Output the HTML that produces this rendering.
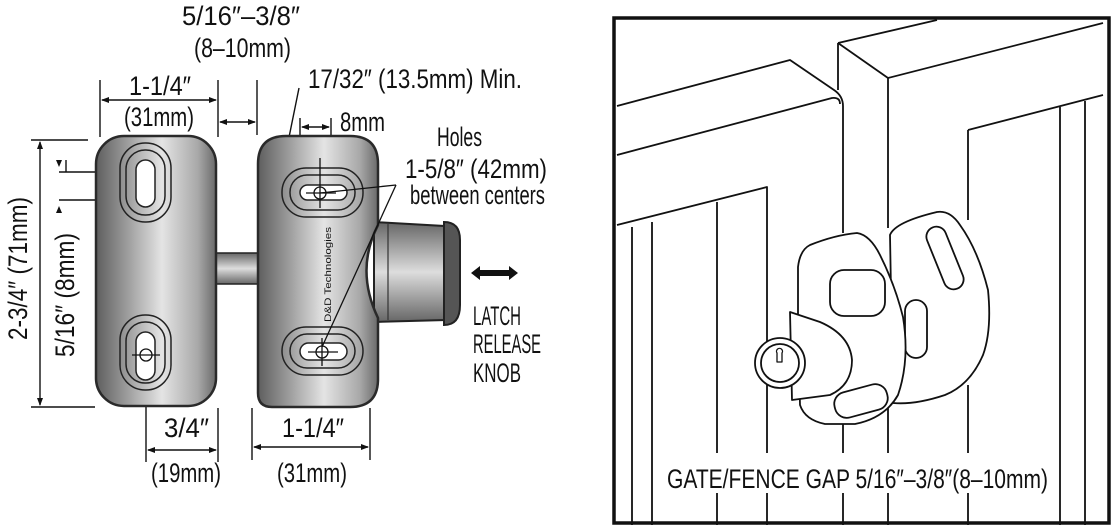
<!DOCTYPE html>
<html><head><meta charset="utf-8"><style>
html,body{margin:0;padding:0;background:#fff;}
svg{display:block;}
text{font-family:"Liberation Sans",sans-serif;fill:#111;}
</style></head><body>
<svg width="1111" height="525" viewBox="0 0 1111 525" xmlns="http://www.w3.org/2000/svg">
<defs>
<linearGradient id="g" x1="0" x2="1" y1="0" y2="0">
<stop offset="0" stop-color="#5e5e5e"/><stop offset="0.25" stop-color="#9a9a9a"/><stop offset="0.55" stop-color="#e4e4e4"/><stop offset="0.85" stop-color="#a8a8a8"/><stop offset="1" stop-color="#6a6a6a"/>
</linearGradient>
<linearGradient id="gv" x1="0" x2="0" y1="0" y2="1">
<stop offset="0" stop-color="#666"/><stop offset="0.5" stop-color="#ddd"/><stop offset="1" stop-color="#666"/>
</linearGradient>
<marker id="a" markerWidth="8" markerHeight="6" refX="7" refY="3" orient="auto-start-reverse" markerUnits="userSpaceOnUse"><path d="M0,0 L8,3 L0,6z" fill="#111"/></marker>
</defs>

<!-- LEFT: dims -->
<g stroke="#111" stroke-width="1.4" fill="none">
<line x1="100" y1="80" x2="100" y2="137"/><line x1="218" y1="80" x2="218" y2="137"/>
<line x1="102" y1="100" x2="216" y2="100" marker-start="url(#a)" marker-end="url(#a)"/>
<line x1="257" y1="80" x2="257" y2="135"/>
<line x1="220" y1="122" x2="255" y2="122" marker-start="url(#a)" marker-end="url(#a)"/>
<line x1="299" y1="88" x2="284" y2="162"/>
<line x1="262" y1="162" x2="309" y2="162" marker-start="url(#a)" marker-end="url(#a)"/>
<line x1="300" y1="118" x2="300" y2="157"/><line x1="331" y1="118" x2="331" y2="157"/>
<line x1="302" y1="127" x2="329" y2="127" marker-start="url(#a)" marker-end="url(#a)"/>
<line x1="31" y1="140" x2="88" y2="140"/><line x1="31" y1="407" x2="95" y2="407"/>
<line x1="40" y1="142" x2="40" y2="405" marker-start="url(#a)" marker-end="url(#a)"/>
<line x1="59" y1="172" x2="95" y2="172"/><line x1="59" y1="200" x2="95" y2="200"/>
<line x1="66" y1="160" x2="66" y2="172"/>
<line x1="146" y1="330" x2="146" y2="462"/>
<line x1="218" y1="408" x2="218" y2="462"/>
<line x1="148" y1="450" x2="216" y2="450" marker-start="url(#a)" marker-end="url(#a)"/>
<line x1="252" y1="408" x2="252" y2="460"/><line x1="370" y1="408" x2="370" y2="460"/>
<line x1="254" y1="447" x2="368" y2="447" marker-start="url(#a)" marker-end="url(#a)"/>
</g>
<path d="M56,160 L62,160 L59,167z M56,213 L62,213 L59,206z" fill="#111"/>

<rect x="214" y="253" width="46" height="31" fill="url(#gv)" stroke="#222" stroke-width="1.5"/>
<rect x="96" y="136" width="120" height="270" rx="28" fill="url(#g)" stroke="#2a2a2a" stroke-width="2.5"/>
<g fill="none" stroke="#222" stroke-width="1.5">
<rect x="120" y="143" width="51" height="79" rx="25"/><rect x="126" y="150" width="39" height="65" rx="19"/><rect x="136" y="160" width="19" height="47" rx="9.5" fill="#fff"/>
<rect x="120" y="315" width="51" height="75" rx="25"/><rect x="126" y="322" width="39" height="61" rx="19"/><rect x="136" y="332" width="19" height="48" rx="9.5" fill="#fff"/>
</g>
<circle cx="146" cy="355" r="6" fill="none" stroke="#111" stroke-width="1.3"/>
<line x1="132" y1="355" x2="160" y2="355" stroke="#111" stroke-width="1.3"/>
<path d="M374,222 L444,226 L446,320 L374,322z" fill="url(#gv)" stroke="#222" stroke-width="2"/>
<path d="M444,222 Q460,222 460,240 L460,305 Q460,325 444,325z" fill="#555" stroke="#222" stroke-width="2"/>
<line x1="388" y1="224" x2="388" y2="320" stroke="#333" stroke-width="1.2"/>
<path d="M286,136 L350,136 Q378,136 378,164 L378,225 Q355,270 378,318 L378,379 Q378,407 350,407 L272,407 Q258,407 258,393 L258,164 Q258,136 286,136z" fill="url(#g)" stroke="#2a2a2a" stroke-width="2.5"/>
<g fill="none" stroke="#222" stroke-width="1.5">
<rect x="282" y="168" width="81" height="49" rx="24"/><rect x="290" y="175" width="65" height="35" rx="17"/><rect x="300" y="185" width="47" height="15" rx="7.5" fill="#fff"/>
<rect x="282" y="327" width="81" height="48" rx="24"/><rect x="290" y="334" width="65" height="34" rx="17"/><rect x="300" y="343" width="47" height="17" rx="8.5" fill="#fff"/>
</g>
<g stroke="#111" stroke-width="1.3" fill="none">
<circle cx="320" cy="193" r="6"/><line x1="306" y1="193" x2="336" y2="193"/><line x1="320" y1="158" x2="320" y2="208"/>
<circle cx="322" cy="352" r="6"/><line x1="308" y1="352" x2="338" y2="352"/><line x1="322" y1="338" x2="322" y2="366"/>
<line x1="396" y1="185" x2="320" y2="193"/><line x1="396" y1="185" x2="322" y2="347"/>
</g>
<text transform="translate(331,322) rotate(-90)" font-size="9" fill="#333" textLength="95" lengthAdjust="spacingAndGlyphs">D&amp;D Technologies</text>
<path d="M471,273 L480,266 L480,270 L509,270 L509,266 L518,273 L509,280 L509,276 L480,276 L480,280z" fill="#111"/>

<g font-size="27">
<text x="182" y="25" textLength="118" lengthAdjust="spacingAndGlyphs">5/16″–3/8″</text>
<text x="194" y="57" textLength="97" lengthAdjust="spacingAndGlyphs">(8–10mm)</text>
<text x="129" y="95" textLength="62" lengthAdjust="spacingAndGlyphs">1-1/4″</text>
<text x="124" y="126" textLength="70" lengthAdjust="spacingAndGlyphs">(31mm)</text>
<text x="308" y="88" textLength="214" lengthAdjust="spacingAndGlyphs">17/32″ (13.5mm) Min.</text>
<text x="340" y="131" textLength="45" lengthAdjust="spacingAndGlyphs">8mm</text>
<text x="437" y="146" textLength="45" lengthAdjust="spacingAndGlyphs">Holes</text>
<text x="405" y="178" textLength="142" lengthAdjust="spacingAndGlyphs">1-5/8″ (42mm)</text>
<text x="410" y="204" textLength="135" lengthAdjust="spacingAndGlyphs">between centers</text>
<text x="473" y="325" textLength="48" lengthAdjust="spacingAndGlyphs">LATCH</text>
<text x="473" y="353" textLength="68" lengthAdjust="spacingAndGlyphs">RELEASE</text>
<text x="473" y="382" textLength="48" lengthAdjust="spacingAndGlyphs">KNOB</text>
<text x="164" y="437" textLength="45" lengthAdjust="spacingAndGlyphs">3/4″</text>
<text x="151" y="482" textLength="70" lengthAdjust="spacingAndGlyphs">(19mm)</text>
<text x="282" y="437" textLength="62" lengthAdjust="spacingAndGlyphs">1-1/4″</text>
<text x="277" y="482" textLength="70" lengthAdjust="spacingAndGlyphs">(31mm)</text>
<text transform="translate(27,340) rotate(-90)" textLength="143" lengthAdjust="spacingAndGlyphs">2-3/4″ (71mm)</text>
<text transform="translate(74,357) rotate(-90)" textLength="124" lengthAdjust="spacingAndGlyphs">5/16″ (8mm)</text>
</g>

<!-- RIGHT PANEL -->
<g stroke="#111" stroke-width="1.8" fill="none" stroke-linejoin="round">
<path d="M617,106 L790,60 L834,90 Q843,96 843,106 L843,233"/>
<path d="M617,155 L832,98 Q840,97 840,104"/>
<path d="M617,225 L767,187 L767,453"/>
<path d="M632,227 L632,525 M652,222 L652,525 M717,202 L717,453 M767,493 L767,525 M717,493 L717,525"/>
<path d="M843,387 L843,453 M843,493 L843,525"/>
<path d="M838,43 L937,20 M838,43 L888,78 L1103,23 M838,43 L838,90"/>
<path d="M888,78 L888,228 M888,400 L888,453 M888,493 L888,525"/>
<path d="M968,130 L1103,95 M968,130 L968,220 M968,385 L968,453 M968,493 L968,525"/>
<path d="M1060,107 L1060,525 M1085,101 L1085,525"/>
</g>
<rect x="614" y="18" width="495" height="505" fill="none" stroke="#111" stroke-width="3.5"/>
<g stroke="#111" stroke-width="1.8" fill="#fff" stroke-linejoin="round">
<!-- right latch body -->
<path d="M890,235 Q895,222 937,212 Q950,210 960,225 Q978,250 988,290 Q992,330 983,355 Q970,385 945,395 Q915,405 893,403z"/>
<rect x="935" y="225" width="20" height="66" rx="10" transform="rotate(-22 945 258)"/>
<rect x="905" y="300" width="22" height="58" rx="11"/>
<!-- left latch body -->
<path d="M798,267 Q800,250 810,245 Q835,235 857,233 Q870,235 880,255 Q895,285 903,317 Q910,360 898,395 Q885,418 855,424 L825,424 Q805,420 800,405 L798,333z"/>
<rect x="830" y="270" width="55" height="46" rx="14"/>
<rect x="834" y="388" width="54" height="26" rx="12" transform="rotate(-15 861 401)"/>
<!-- knob -->
<path d="M790,312 L820,322 Q850,335 852,360 Q852,385 830,395 L792,400z"/>
<circle cx="780" cy="363" r="25"/><circle cx="780" cy="363" r="19"/>
<path d="M777,353 a3,3 0 1 1 5,0 l0,9 l-5,0z" fill="none" stroke-width="1.3"/>
</g>
<text x="667" y="488" font-size="27" textLength="381" lengthAdjust="spacingAndGlyphs">GATE/FENCE GAP  5/16″–3/8″(8–10mm)</text>
</svg>
</body></html>
